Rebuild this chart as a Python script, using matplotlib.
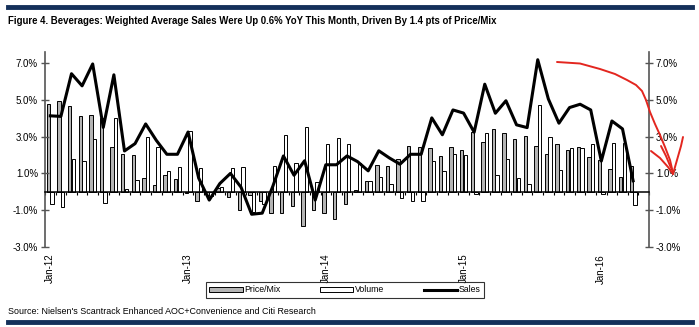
import matplotlib
matplotlib.use('Agg')
import matplotlib.pyplot as plt
from matplotlib.lines import Line2D
import numpy as np

plt.rcParams['font.family'] = ['Liberation Sans Narrow', 'Liberation Sans', 'DejaVu Sans']

# 4-week periods, Jan-12 .. latest (13 per year)
price_mix = [4.78, 4.96, 4.67, 4.13, 4.16, 4.0, 2.42, 2.04, 2.0, 0.76,
             0.36, 0.9, 0.7, -0.05, -0.5, -0.2, 0.2, -0.27, -1.0, -0.18,
             -0.5, -1.13, -1.13, -0.75, -1.85, -1.0, -1.13, -1.49, -0.67, 0.09,
             0.58, 1.45, 1.42, 1.8, 2.51, 2.45, 2.36, 1.95, 2.42, 2.27,
             3.24, 2.73, 3.42, 3.18, 2.87, 3.05, 2.51, 2.05, 2.58, 2.27,
             2.44, 1.89, 1.73, 1.24, 0.78, 1.4]
volume = [-0.64, -0.82, 1.78, 1.67, 2.85, -0.6, 4.0, 0.18, 0.62, 2.96,
          2.45, 1.15, 1.36, 3.3, 1.3, -0.25, 0.25, 1.27, 1.33, -1.09,
          -0.65, 1.4, 3.09, 1.58, 3.55, 0.55, 2.58, 2.95, 2.58, 1.55,
          0.58, 0.78, 0.4, -0.31, -0.49, -0.49, 1.67, 1.15, 2.05, 2.0,
          -0.1, 3.18, 0.9, 1.78, 0.76, 0.42, 4.73, 3.0, 1.18, 2.36,
          2.38, 2.58, -0.1, 2.64, 2.64, -0.73]
sales = [4.13, 4.1, 6.42, 5.76, 6.95, 3.5, 6.36, 2.22, 2.62, 3.69,
         2.8, 2.04, 2.04, 3.25, 0.75, -0.45, 0.45, 1.0, 0.25, -1.22,
         -1.16, 0.3, 1.95, 0.9, 1.69, -0.45, 1.47, 1.47, 1.95, 1.64,
         1.14, 2.23, 1.84, 1.5, 2.04, 2.04, 4.02, 3.1, 4.45, 4.28,
         3.24, 5.85, 4.27, 4.95, 3.64, 3.49, 7.18, 5.05, 3.73, 4.58,
         4.76, 4.45, 1.67, 3.85, 3.42, 0.6]
year_pos = [0, 13, 26, 39, 52]
year_labels = ['Jan-12', 'Jan-13', 'Jan-14', 'Jan-15', 'Jan-16']
y_ticks = [-3, -1, 1, 3, 5, 7]

title = ('Figure 4. Beverages: Weighted Average Sales Were Up 0.6% YoY This Month, '
         'Driven By 1.4 pts of Price/Mix')
source = "Source: Nielsen's Scantrack Enhanced AOC+Convenience and Citi Research"

W, H = 699, 327
fig = plt.figure(figsize=(W / 100, H / 100), dpi=100)
ax = fig.add_axes([45 / W, 1 - 247 / H, 604 / W, 195 / H])

x = np.arange(len(sales))
b1 = ax.bar(x - 0.17, price_mix, 0.32, color='#b4b4b4', edgecolor='black', linewidth=0.7, label='Price/Mix')
b2 = ax.bar(x + 0.17, volume, 0.32, color='white', edgecolor='black', linewidth=0.7, label='Volume')
l1, = ax.plot(x, sales, color='black', lw=2.2, label='Sales')

ax.set_xlim(-0.5, 56.5)
ax.set_ylim(-3, 7.6)
ax.spines['top'].set_visible(False)
ax.spines['bottom'].set_position(('data', 0))
ax.spines['bottom'].set_linewidth(1.1)
for s in ['left', 'right']:
    ax.spines[s].set_color('#555555')
    ax.spines[s].set_linewidth(1.2)

ax.set_xticks(np.arange(-0.5, 57, 1))
ax.tick_params(axis='x', direction='out', length=2.5, width=0.8, labelbottom=False)
ax.set_yticks(y_ticks)
ax.set_yticklabels([f'{v:.1f}%' for v in y_ticks])
ax.tick_params(axis='y', direction='inout', length=6, width=1, color='#555555',
               labelsize=7, left=True, right=True, labelleft=True, labelright=True, pad=2)

for p, lab in zip(year_pos, year_labels):
    ax.text(p, -0.035, lab, transform=ax.get_xaxis_transform(), rotation=90,
            ha='center', va='top', fontsize=7)

leg = fig.legend([b1, b2, l1], ['Price/Mix', 'Volume', 'Sales'],
                 loc='center', bbox_to_anchor=(345 / W, 1 - 290 / H), ncol=3,
                 fontsize=6.3, frameon=True, fancybox=False, edgecolor='black',
                 handlelength=3.8, handleheight=0.55, columnspacing=4.5,
                 borderpad=0.4, borderaxespad=0, handletextpad=0.2)
leg.get_frame().set_linewidth(0.8)

fig.text(8 / W, 1 - 21 / H, title, fontsize=6.9, weight='bold', va='center', ha='left')
fig.text(8 / W, 1 - 311 / H, source, fontsize=6.4, va='center', ha='left')

for yy in [7, 322]:
    fig.add_artist(Line2D([8 / W, 692 / W], [1 - yy / H] * 2, color='#14305a', lw=3.5,
                          transform=fig.transFigure))

# hand-drawn red arrow on the reference
red_main = [(557, 62), (580, 63.5), (600, 69), (615, 74), (627, 80), (636, 85), (642, 91),
            (646, 100), (650, 112), (655, 124), (660, 135), (665, 147), (670, 160), (673, 173)]
red_left = [(651, 151), (660, 158), (668, 167), (673, 174)]
red_mid = [(661, 146), (666, 156), (671, 168)]
red_right = [(673, 174), (677, 160), (681, 146), (683, 137)]
for path in [red_main, red_left, red_mid, red_right]:
    xs = [p[0] / W for p in path]
    ys = [1 - p[1] / H for p in path]
    fig.add_artist(Line2D(xs, ys, color='#e3261f', lw=1.4, transform=fig.transFigure,
                          solid_capstyle='round'))

fig.savefig('out.png', dpi=100)
